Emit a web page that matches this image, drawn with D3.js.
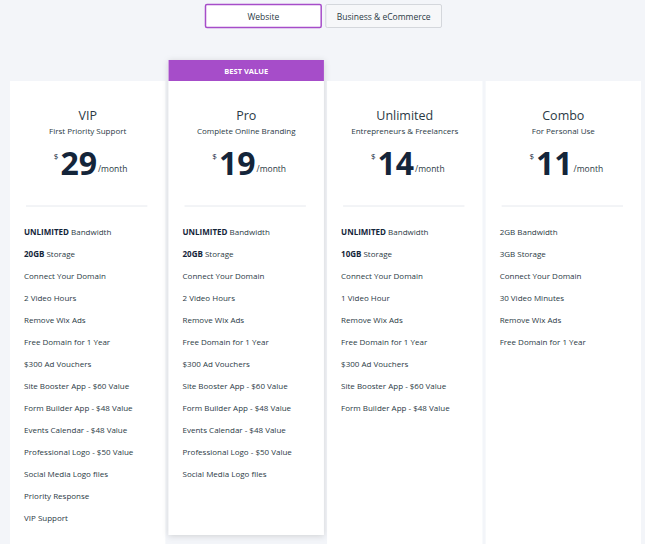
<!DOCTYPE html>
<html><head><meta charset="utf-8">
<script src="https://cdn.jsdelivr.net/npm/d3@7"></script>
<style>body{margin:0;background:#f3f5f9;}svg{display:block;font-family:"Open Sans",Arial,sans-serif;}</style>
</head><body><svg id="c" width="645" height="544"></svg>
<script>
const tabs = ["Website", "Business & eCommerce"];
const plans = ["VIP", "Pro", "Unlimited", "Combo"];
const subtitles = ["First Priority Support", "Complete Online Branding", "Entrepreneurs & Freelancers", "For Personal Use"];
const prices = [29, 19, 14, 11];
const features = [
  [["UNLIMITED"," Bandwidth"],["20GB"," Storage"],["","Connect Your Domain"],["","2 Video Hours"],["","Remove Wix Ads"],["","Free Domain for 1 Year"],["","$300 Ad Vouchers"],["","Site Booster App - $60 Value"],["","Form Builder App - $48 Value"],["","Events Calendar - $48 Value"],["","Professional Logo - $50 Value"],["","Social Media Logo files"],["","Priority Response"],["","VIP Support"]],
  [["UNLIMITED"," Bandwidth"],["20GB"," Storage"],["","Connect Your Domain"],["","2 Video Hours"],["","Remove Wix Ads"],["","Free Domain for 1 Year"],["","$300 Ad Vouchers"],["","Site Booster App - $60 Value"],["","Form Builder App - $48 Value"],["","Events Calendar - $48 Value"],["","Professional Logo - $50 Value"],["","Social Media Logo files"]],
  [["UNLIMITED"," Bandwidth"],["10GB"," Storage"],["","Connect Your Domain"],["","1 Video Hour"],["","Remove Wix Ads"],["","Free Domain for 1 Year"],["","$300 Ad Vouchers"],["","Site Booster App - $60 Value"],["","Form Builder App - $48 Value"]],
  [["","2GB Bandwidth"],["","3GB Storage"],["","Connect Your Domain"],["","30 Video Minutes"],["","Remove Wix Ads"],["","Free Domain for 1 Year"]]
];
const badge = "BEST VALUE";
const highlighted = 1;

const svg = d3.select("#c");
const defs = svg.append("defs");
const f = defs.append("filter").attr("id","sh").attr("x","-20%").attr("y","-10%").attr("width","140%").attr("height","120%");
f.append("feDropShadow").attr("dx",0).attr("dy",1).attr("stdDeviation",3).attr("flood-color","#000").attr("flood-opacity",0.15);

// tabs
const tx = d3.scaleBand().domain(tabs).range([205,442]).paddingInner(0.03);
const tg = svg.selectAll("g.tab").data(tabs).join("g");
tg.append("rect").attr("x",d=>tx(d)+0.5).attr("y",4.5).attr("width",tx.bandwidth()-1).attr("height",23).attr("rx",1.5)
  .attr("fill",(d,i)=>i===0?"#fff":"#f6f7f9").attr("stroke",(d,i)=>i===0?"#a64dc9":"#d4d7dc").attr("stroke-width",(d,i)=>i===0?1.5:1);
tg.append("text").attr("x",d=>tx(d)+tx.bandwidth()/2).attr("y",19.5).attr("text-anchor","middle").attr("font-size",8.5).attr("fill","#2b3a45").text(d=>d);

const x = d3.scaleBand().domain(plans).range([10,641]).paddingInner(0.02);
const y = d3.scaleLinear().domain([0,1]).range([232,254]);
const cards = svg.selectAll("g.card").data(plans).join("g");
cards.each(function(p,i){
  const g = d3.select(this), x0 = x(p), w = x.bandwidth(), cx = x0+w/2;
  if(i===highlighted){
    g.append("rect").attr("x",x0).attr("y",60).attr("width",w).attr("height",475).attr("fill","#fff").attr("filter","url(#sh)");
    g.append("rect").attr("x",x0).attr("y",60).attr("width",w).attr("height",21).attr("fill","#a64dc9");
    g.append("text").attr("x",cx).attr("y",73.5).attr("text-anchor","middle").attr("font-size",7.5).attr("font-weight","bold").attr("fill","#fff").text(badge);
  } else {
    g.append("rect").attr("x",x0).attr("y",81).attr("width",w).attr("height",470).attr("fill","#fff");
  }
  g.append("text").attr("x",cx).attr("y",120).attr("text-anchor","middle").attr("font-size",12.5).attr("fill","#2b3a45").text(p);
  g.append("text").attr("x",cx).attr("y",134).attr("text-anchor","middle").attr("font-size",8).attr("fill","#2b3a45").text(subtitles[i]);
  const t = g.append("text").attr("x",cx+3).attr("y",175).attr("text-anchor","middle").attr("fill","#14253a");
  t.append("tspan").attr("font-size",8).attr("dy",-16).text("$");
  t.append("tspan").attr("font-size",32).attr("font-weight","bold").attr("dy",16).attr("dx",2).text(prices[i]);
  t.append("tspan").attr("font-size",8.5).attr("fill","#2b3a45").attr("dx",1).attr("dy",-3).text("/month");
  g.append("line").attr("x1",x0+16).attr("x2",x0+w-18).attr("y1",206).attr("y2",206).attr("stroke","#e6e9ee");
  features[i].forEach((ft,k)=>{
    const tt = g.append("text").attr("x",x0+14).attr("y",y(k)+3).attr("font-size",8).attr("fill","#2b3a45");
    if(ft[0]) tt.append("tspan").attr("font-weight","bold").attr("fill","#14253a").text(ft[0]);
    tt.append("tspan").text(ft[1]);
  });
});
</script></body></html>
